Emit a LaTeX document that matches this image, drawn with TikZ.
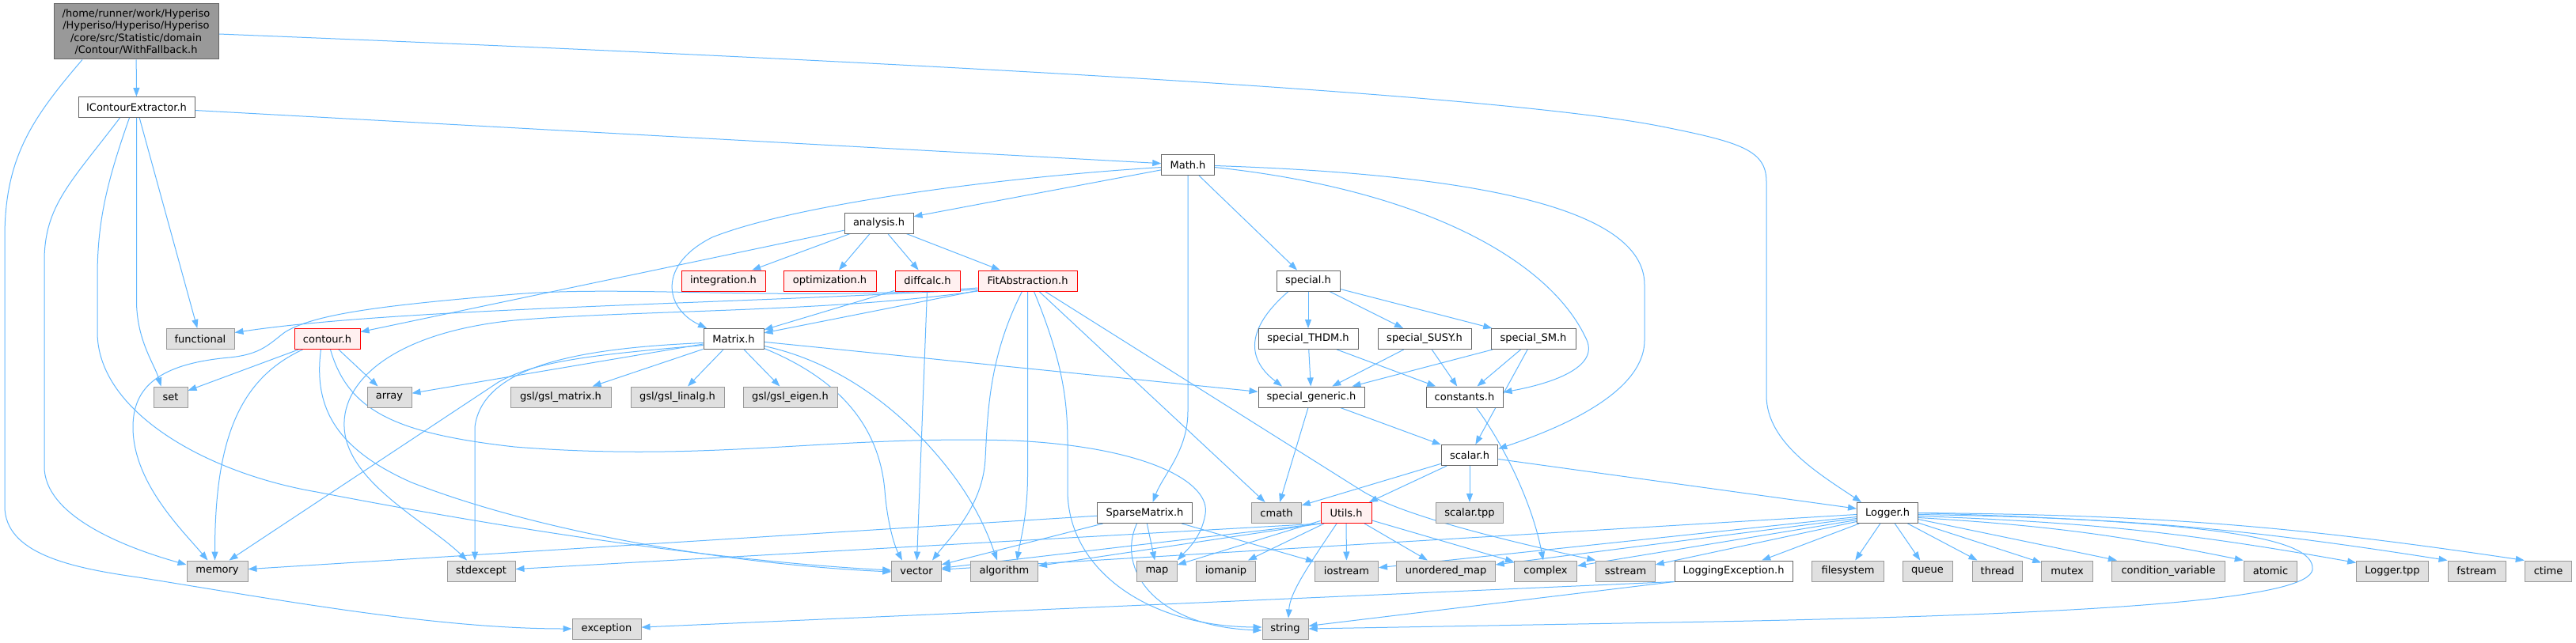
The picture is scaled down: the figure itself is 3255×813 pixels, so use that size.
\documentclass[tikz,border=0pt]{standalone}
\usepackage{fontspec}
\setmainfont{DejaVu Sans}
\usetikzlibrary{arrows.meta,calc}
\definecolor{edgec}{HTML}{63B8FF}
\definecolor{gfill}{HTML}{E0E0E0}
\definecolor{gdraw}{HTML}{999999}
\definecolor{wdraw}{HTML}{666666}
\definecolor{rfill}{HTML}{FFF0F0}
\definecolor{rootfill}{HTML}{999999}
\pgfdeclarelayer{edges}
\pgfsetlayers{edges,main}
\tikzset{
  nb/.style={rectangle, inner sep=0pt, minimum height=26pt, line width=1pt, font=\fontsize{13}{15}\selectfont, text=black},
  gbox/.style={nb, fill=gfill, draw=gdraw},
  wbox/.style={nb, fill=white, draw=wdraw},
  rbox/.style={nb, fill=rfill, draw=red},
  rootbox/.style={nb, fill=rootfill, draw=wdraw, align=center, font=\fontsize{13}{15.5}\selectfont},
  conn/.style={draw=edgec, line width=1pt, -{Triangle[length=11pt,width=8pt]}},
}
\begin{document}
\begin{tikzpicture}[x=1pt,y=-1pt]
\useasboundingbox (0,0) rectangle (3255,813);
% ---------- nodes ----------
\node[rootbox, minimum width=208pt, minimum height=70pt] (root) at (172,40) {/home/runner/work/Hyperiso\\/Hyperiso/Hyperiso/Hyperiso\\/core/src/Statistic/domain\\/Contour/WithFallback.h};
\node[wbox, minimum width=147pt] (ice) at (172.5,135.5) {IContourExtractor.h};
\node[wbox, minimum width=66.5pt] (mathh) at (1501,208.5) {Math.h};
\node[wbox, minimum width=87pt] (analysis) at (1110.5,282) {analysis.h};
\node[rbox, minimum width=106pt] (integ) at (914,355) {integration.h};
\node[rbox, minimum width=117pt] (optim) at (1048.5,355) {optimization.h};
\node[rbox, minimum width=82pt] (diffc) at (1172,355) {diffcalc.h};
\node[rbox, minimum width=125pt] (fitab) at (1298.5,355) {FitAbstraction.h};
\node[wbox, minimum width=80pt] (special) at (1653,355) {special.h};
\node[wbox, minimum width=126pt] (thdm) at (1653,428.5) {special\_THDM.h};
\node[wbox, minimum width=118pt] (susy) at (1800,428.5) {special\_SUSY.h};
\node[wbox, minimum width=107pt] (sm) at (1937.5,428.5) {special\_SM.h};
\node[wbox, minimum width=134pt] (generic) at (1657,502) {special\_generic.h};
\node[wbox, minimum width=97pt] (constants) at (1850.5,502) {constants.h};
\node[wbox, minimum width=71.5pt] (scalarh) at (1857,575.5) {scalar.h};
\node[gbox, minimum width=86pt] (functional) at (253,428.5) {functional};
\node[rbox, minimum width=83pt] (contour) at (413.5,428.5) {contour.h};
\node[wbox, minimum width=76pt] (matrix) at (927,428.5) {Matrix.h};
\node[gbox, minimum width=43pt] (setn) at (215.5,502) {set};
\node[gbox, minimum width=56pt] (arrayn) at (492,502) {array};
\node[gbox, minimum width=127pt] (gslm) at (708.5,502) {gsl/gsl\_matrix.h};
\node[gbox, minimum width=118pt] (gsll) at (856,502) {gsl/gsl\_linalg.h};
\node[gbox, minimum width=119pt] (gsle) at (998.5,502) {gsl/gsl\_eigen.h};
\node[wbox, minimum width=120pt] (sparse) at (1446.5,648.5) {SparseMatrix.h};
\node[gbox, minimum width=62.5pt] (cmath) at (1613,648.5) {cmath};
\node[rbox, minimum width=64pt] (utils) at (1701,648.5) {Utils.h};
\node[gbox, minimum width=84.5pt] (scalartpp) at (1857,648.5) {scalar.tpp};
\node[wbox, minimum width=77pt] (logger) at (2385,648.5) {Logger.h};
\node[gbox, minimum width=77pt] (memory) at (274.5,722) {memory};
\node[gbox, minimum width=86pt] (stdexcept) at (608,722) {stdexcept};
\node[gbox, minimum width=62.5pt] (vectorn) at (1158,722) {vector};
\node[gbox, minimum width=85pt] (algorithm) at (1269,722) {algorithm};
\node[gbox, minimum width=50.5pt] (mapn) at (1462,722) {map};
\node[gbox, minimum width=74.5pt] (iomanip) at (1549,722) {iomanip};
\node[gbox, minimum width=80pt] (iostream) at (1701.5,722) {iostream};
\node[gbox, minimum width=124.5pt] (umap) at (1827,722) {unordered\_map};
\node[gbox, minimum width=79pt] (complexn) at (1953,722) {complex};
\node[gbox, minimum width=74.5pt] (sstream) at (2054,722) {sstream};
\node[wbox, minimum width=149pt] (logexc) at (2190.5,722) {LoggingException.h};
\node[gbox, minimum width=91.5pt] (filesystem) at (2335,722) {filesystem};
\node[gbox, minimum width=63pt] (queue) at (2435.5,722) {queue};
\node[gbox, minimum width=63.7pt] (thread) at (2524,722) {thread};
\node[gbox, minimum width=64.5pt] (mutex) at (2612,722) {mutex};
\node[gbox, minimum width=143pt] (condvar) at (2740,722) {condition\_variable};
\node[gbox, minimum width=67.6pt] (atomic) at (2869,722) {atomic};
\node[gbox, minimum width=90.7pt] (loggertpp) at (3023,722) {Logger.tpp};
\node[gbox, minimum width=73pt] (fstream) at (3129.5,722) {fstream};
\node[gbox, minimum width=59.5pt] (ctime) at (3220,722) {ctime};
\node[gbox, minimum width=87pt] (exception) at (766.5,795) {exception};
\node[gbox, minimum width=58pt] (stringn) at (1624,795) {string};
% ---------- edges ----------
\begin{pgfonlayer}{edges}
\fill[white] (0,0) rectangle (3255,813);
% root
\draw[conn] (root) -- (ice);
\draw[conn] ($(root.south)+(-68,0)$) .. controls (40,150) and (6,200) .. (6,300) -- (6,640) .. controls (6,700) and (90,718) .. (175,730) .. controls (350,758) and (550,795) .. (exception.west);
\draw[conn] ($(root.east)+(0,3)$) .. controls (1200,80) and (1900,120) .. (2100,160) .. controls (2200,180) and (2232,190) .. (2232,230) -- (2232,500) .. controls (2232,560) and (2300,600) .. ($(logger.north)+(-33,0)$);
% IContourExtractor
\draw[conn] (ice) -- (functional);
\draw[conn] (ice) -- (mathh);
\draw[conn] ($(ice.south)+(-21,0)$) .. controls (90,230) and (56,260) .. (56,330) -- (56,590) .. controls (56,650) and (150,690) .. ($(memory.west)+(0,-8)$);
\draw[conn] ($(ice.south)+(-9,0)$) .. controls (135,230) and (123,280) .. (123,350) -- (123,420) .. controls (123,520) and (260,598) .. (400,622) .. controls (700,680) and (950,712) .. ($(vectorn.west)+(0,-1)$);
\draw[conn] (ice.south) -- (172.5,380) .. controls (172.5,430) and (195,460) .. ($(setn.north)+(-12,0)$);
% Math.h
\draw[conn] (mathh) -- (analysis);
\draw[conn] (mathh) -- (special);
\draw[conn] (mathh.south) -- (1501,520) .. controls (1501,570) and (1470,600) .. ($(sparse.north)+(10,0)$);
\draw[conn] ($(mathh.west)+(0,3)$) .. controls (1250,225) and (1000,260) .. (900,300) .. controls (830,335) and (840,390) .. ($(matrix.north)+(-34,0)$);
\draw[conn] ($(mathh.east)+(0,3)$) .. controls (1800,240) and (1960,330) .. (2005,430) .. controls (2020,465) and (1960,485) .. ($(constants.east)+(0,-6)$);
\draw[conn] ($(mathh.east)+(0,1)$) .. controls (1850,220) and (2078,260) .. (2078,360) -- (2078,430) .. controls (2078,500) and (1960,545) .. ($(scalarh.east)+(0,-8)$);
% analysis.h
\draw[conn] (analysis) -- (contour);
\draw[conn] (analysis) -- (integ);
\draw[conn] (analysis) -- (optim);
\draw[conn] (analysis) -- (diffc);
\draw[conn] (analysis) -- (fitab);
% diffcalc.h
\draw[conn] (diffc) -- (matrix);
\draw[conn] (diffc) -- (vectorn);
% FitAbstraction.h
\draw[conn] (fitab) -- (matrix);
\draw[conn] (fitab) -- (cmath);
\draw[conn] ($(fitab.west)+(0,11)$) .. controls (900,385) and (500,390) .. ($(functional.east)+(0,-8)$);
\draw[conn] ($(fitab.west)+(0,9)$) .. controls (1000,382) and (800,360) .. (650,372) .. controls (500,385) and (400,395) .. (360,420) .. controls (340,435) and (330,448) .. (290,452) .. controls (200,460) and (168,490) .. (168,540) .. controls (168,610) and (230,670) .. ($(memory.north)+(-12,0)$);
\draw[conn] ($(fitab.west)+(0,13)$) .. controls (1050,395) and (800,392) .. (650,405) .. controls (500,420) and (432,480) .. (435,540) .. controls (438,610) and (540,660) .. ($(stdexcept.north)+(-18,0)$);
\draw[conn] ($(fitab.south)+(-7,0)$) .. controls (1250,450) and (1248,520) .. (1245,580) .. controls (1242,640) and (1200,680) .. ($(vectorn.north)+(20,0)$);
\draw[conn] (fitab.south) -- (1298.5,600) .. controls (1298.5,650) and (1290,680) .. ($(algorithm.north)+(16,0)$);
\draw[conn] ($(fitab.south)+(8,0)$) .. controls (1340,450) and (1349,500) .. (1349,560) -- (1349,620) .. controls (1349,720) and (1450,792) .. ($(stringn.west)+(0,-2)$);
\draw[conn] ($(fitab.south)+(22,0)$) -- (1720,620) .. controls (1760,645) and (1850,672) .. (sstream.north west);
% contour.h
\draw[conn] (contour) -- (setn);
\draw[conn] (contour) -- (arrayn);
\draw[conn] ($(contour.south)+(-31,0)$) .. controls (300,480) and (271.5,560) .. ($(memory.north)+(-3,0)$);
\draw[conn] ($(contour.south)+(-8,0)$) .. controls (395,520) and (430,570) .. (520,610) .. controls (700,680) and (950,715) .. ($(vectorn.west)+(0,1)$);
\draw[conn] ($(contour.south)+(4,0)$) .. controls (440,520) and (500,548) .. (650,565) .. controls (900,585) and (1050,550) .. (1280,557) .. controls (1450,565) and (1530,610) .. (1523,650) .. controls (1518,680) and (1500,695) .. (mapn.north east);
% Matrix.h
\draw[conn] (matrix) -- (arrayn);
\draw[conn] (matrix) -- (gslm);
\draw[conn] (matrix) -- (gsll);
\draw[conn] (matrix) -- (gsle);
\draw[conn] (matrix) -- (generic);
\draw[conn] ($(matrix.west)+(0,8)$) .. controls (760,448) and (680,455) .. (630,483) -- ($(memory.north)+(15,0)$);
\draw[conn] ($(matrix.west)+(0,5)$) .. controls (740,440) and (610,460) .. (600,540) -- ($(stdexcept.north)+(-8,0)$);
\draw[conn] ($(matrix.east)+(0,12)$) .. controls (1050,475) and (1110,530) .. (1118,620) .. controls (1121,660) and (1130,690) .. ($(vectorn.north)+(-18,0)$);
\draw[conn] ($(matrix.east)+(0,9)$) .. controls (1070,460) and (1150,530) .. (1200,595) .. controls (1235,640) and (1250,680) .. ($(algorithm.north)+(-9,0)$);
% special.h family
\draw[conn] (special) -- (thdm);
\draw[conn] (special) -- (susy);
\draw[conn] (special) -- (sm);
\draw[conn] ($(special.south)+(-25,0)$) .. controls (1580,410) and (1570,450) .. ($(generic.north)+(-37,0)$);
\draw[conn] (thdm) -- (generic);
\draw[conn] (thdm) -- (constants);
\draw[conn] (susy) -- (generic);
\draw[conn] (susy) -- (constants);
\draw[conn] (sm) -- (generic);
\draw[conn] (sm) -- (constants);
\draw[conn] (sm) -- (scalarh);
\draw[conn] (generic) -- (cmath);
\draw[conn] (generic) -- (scalarh);
\draw[conn] ($(constants.south)+(15,0)$) .. controls (1895,555) and (1935,630) .. ($(complexn.north)+(-3,0)$);
% scalar.h
\draw[conn] (scalarh) -- (cmath);
\draw[conn] (scalarh) -- (utils);
\draw[conn] (scalarh) -- (scalartpp);
\draw[conn] (scalarh) -- (logger);
% SparseMatrix.h
\draw[conn] (sparse) -- (memory);
\draw[conn] (sparse) -- (vectorn);
\draw[conn] (sparse) -- (mapn);
\draw[conn] (sparse) -- (iostream);
\draw[conn] ($(sparse.south)+(-10,0)$) .. controls (1410,720) and (1460,792) .. ($(stringn.west)+(0,2)$);
% Utils.h
\draw[conn] (utils.south west) -- (stdexcept);
\draw[conn] (utils.south west) -- (algorithm);
\draw[conn] (utils.south west) -- (vectorn);
\draw[conn] (utils) -- (mapn);
\draw[conn] (utils) -- (iomanip);
\draw[conn] (utils) -- (iostream);
\draw[conn] (utils) -- (umap);
\draw[conn] (utils) -- (complexn);
\draw[conn] ($(utils.south)+(-12,0)$) .. controls (1650,720) and (1630,750) .. ($(stringn.north)+(4,0)$);
% Logger.h
\draw[conn] ($(logger.west)+(0,2)$) -- (vectorn);
\draw[conn] ($(logger.west)+(0,5)$) -- (iostream);
\draw[conn] ($(logger.west)+(0,7)$) -- (umap);
\draw[conn] ($(logger.west)+(0,9)$) -- (complexn);
\draw[conn] ($(logger.west)+(0,11)$) -- (sstream);
\draw[conn] (logger) -- (logexc);
\draw[conn] (logger) -- (filesystem);
\draw[conn] (logger) -- (queue);
\draw[conn] (logger) -- (thread);
\draw[conn] (logger) -- (mutex);
\draw[conn] (logger) -- (condvar);
\draw[conn] ($(logger.east)+(0,6)$) to[bend left=4] (atomic.north west);
\draw[conn] ($(logger.east)+(0,4)$) to[bend left=4] ($(loggertpp.north west)+(0,3)$);
\draw[conn] ($(logger.east)+(0,2)$) to[bend left=4] (fstream.north west);
\draw[conn] (logger.east) to[bend left=4] (ctime.north west);
\draw[conn] (logger.east) .. controls (2800,660) and (2925,680) .. (2922,720) .. controls (2918,755) and (2700,778) .. (2050,788) -- (stringn.east);
% LoggingException.h
\draw[conn] (logexc.south west) -- (exception);
\draw[conn] (logexc.south west) -- (stringn);
\end{pgfonlayer}
\end{tikzpicture}
\end{document}
